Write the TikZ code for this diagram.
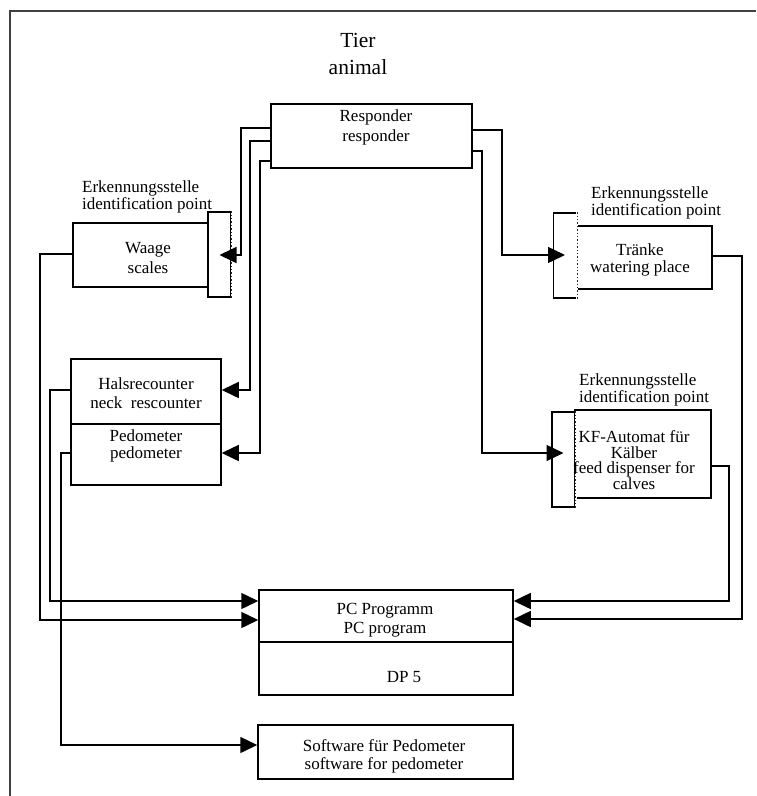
\documentclass[tikz,border=0pt]{standalone}
\usepackage{fontspec}
\setmainfont{Liberation Serif}
\usetikzlibrary{arrows.meta}

\begin{document}
\begin{tikzpicture}[x=1pt,y=-1pt,
		box/.style={draw,line width=1.5pt,inner sep=0pt},
		idpt/.style={draw,fill=white,line width=1.5pt,inner sep=0pt,minimum width=23pt},
		dotedge/.style={draw=white,line width=2pt,postaction={draw=black!85,dotted,line width=1.4pt}},
		txt/.style={font=\fontsize{17}{#1}\selectfont,align=center,inner sep=0pt},
		txt/.default=19,
		wire/.style={line width=1.5pt,-{Triangle[length=17pt,width=16pt]}},
		frame/.style={line width=1.1pt,black!75}]
		\useasboundingbox (0,0) rectangle (756,796);
		\draw[frame] (10,796) -- (10,11) -- (756,11);
		\node[txt,font=\fontsize{21.5}{27}\selectfont] (tier) at (358,54) {Tier\\animal};
		% boxes
		\node[box,minimum width=201pt,minimum height=64pt] (resp) at (371.5,136) {};
		\node[box,minimum width=135pt,minimum height=64pt] (waage) at (140.5,255) {};
		\node[box,minimum width=135pt,minimum height=63pt] (traenke) at (644.5,257.5) {};
		\node[box,minimum width=136pt,minimum height=88pt] (kf) at (643,454) {};
		\node[box,minimum width=150pt,minimum height=65pt] (hals) at (146,391.5) {};
		\node[box,minimum width=150pt,minimum height=61pt] (pedo) at (146,454.5) {};
		\node[box,minimum width=254pt,minimum height=52pt] (pc) at (386,616) {};
		\node[box,minimum width=254pt,minimum height=53pt] (dp) at (386,668.5) {};
		\node[box,minimum width=255pt,minimum height=54pt] (soft) at (385.5,752) {};
		% identification points
		\node[idpt,minimum height=85pt] (idW) at (219.5,254.5) {};
		\node[idpt,minimum height=85pt] (idT) at (565,255.5) {};
		\node[idpt,minimum height=95pt] (idK) at (563.5,459.5) {};
		\draw[dotedge] (idW.north east) -- (idW.south east);
		\draw[dotedge] (idT.north east) -- (idT.south east);
		\draw[dotedge] (idK.north east) -- (idK.south east);
		% texts
		\node[txt=20] (resptxt) at (376,127) {Responder\\responder};
		\node[txt=20] (waagetxt) at (148,258) {Waage\\scales};
		\node[txt=16.5] (traenketxt) at (640,260) {Tränke\\watering place};
		\node[txt=15.5] (kftxt) at (634,460) {KF-Automat für\\Kälber\\feed dispenser for\\calves};
		\node[txt] (halstxt) at (146,393.5) {Halsrecounter\\neck~ rescounter};
		\node[txt=17] (pedotxt) at (146,445.5) {Pedometer\\pedometer};
		\node[txt] (pctxt) at (385,620) {PC Programm\\PC program};
		\node[txt] (dptxt) at (404,677) {DP 5};
		\node[txt=18] (softtxt) at (384,756) {Software für Pedometer\\software for pedometer};
		\node[txt=17,align=left,anchor=west] (erkW) at (82,196.5) {Erkennungsstelle\\identification point};
		\node[txt=17,align=left,anchor=west] (erkT) at (591,202.5) {Erkennungsstelle\\identification point};
		\node[txt=17,align=left,anchor=west] (erkK) at (579,390) {Erkennungsstelle\\identification point};
		% responder to the devices
		\draw[wire] (resp.west |- 0,128) -| (241,255) -- (idW.center |- 0,255);
		\draw[wire] (resp.west |- 0,141) -| (250,390) -- (hals.east |- 0,390);
		\draw[wire] (resp.west |- 0,161) -| (260,453) -- (pedo.east |- 0,453);
		\draw[wire] (resp.east |- 0,130) -| (502,255) -- (idT.center |- 0,255);
		\draw[wire] (resp.east |- 0,151) -| (482,453) -- (idK.center |- 0,453);
		% devices to the software
		\draw[wire] (waage.west |- 0,254) -| (40,620) -- (pc.west |- 0,620);
		\draw[wire] (hals.west |- 0,390) -| (50,601) -- (pc.west |- 0,601);
		\draw[wire] (pedo.west |- 0,453) -| (61,745) -- (soft.west |- 0,745);
		\draw[wire] (traenke.east |- 0,256) -| (742,619) -- (pc.east |- 0,619);
		\draw[wire] (kf.east |- 0,466) -| (729,601) -- (pc.east |- 0,601);
	\end{tikzpicture}
\end{document}
